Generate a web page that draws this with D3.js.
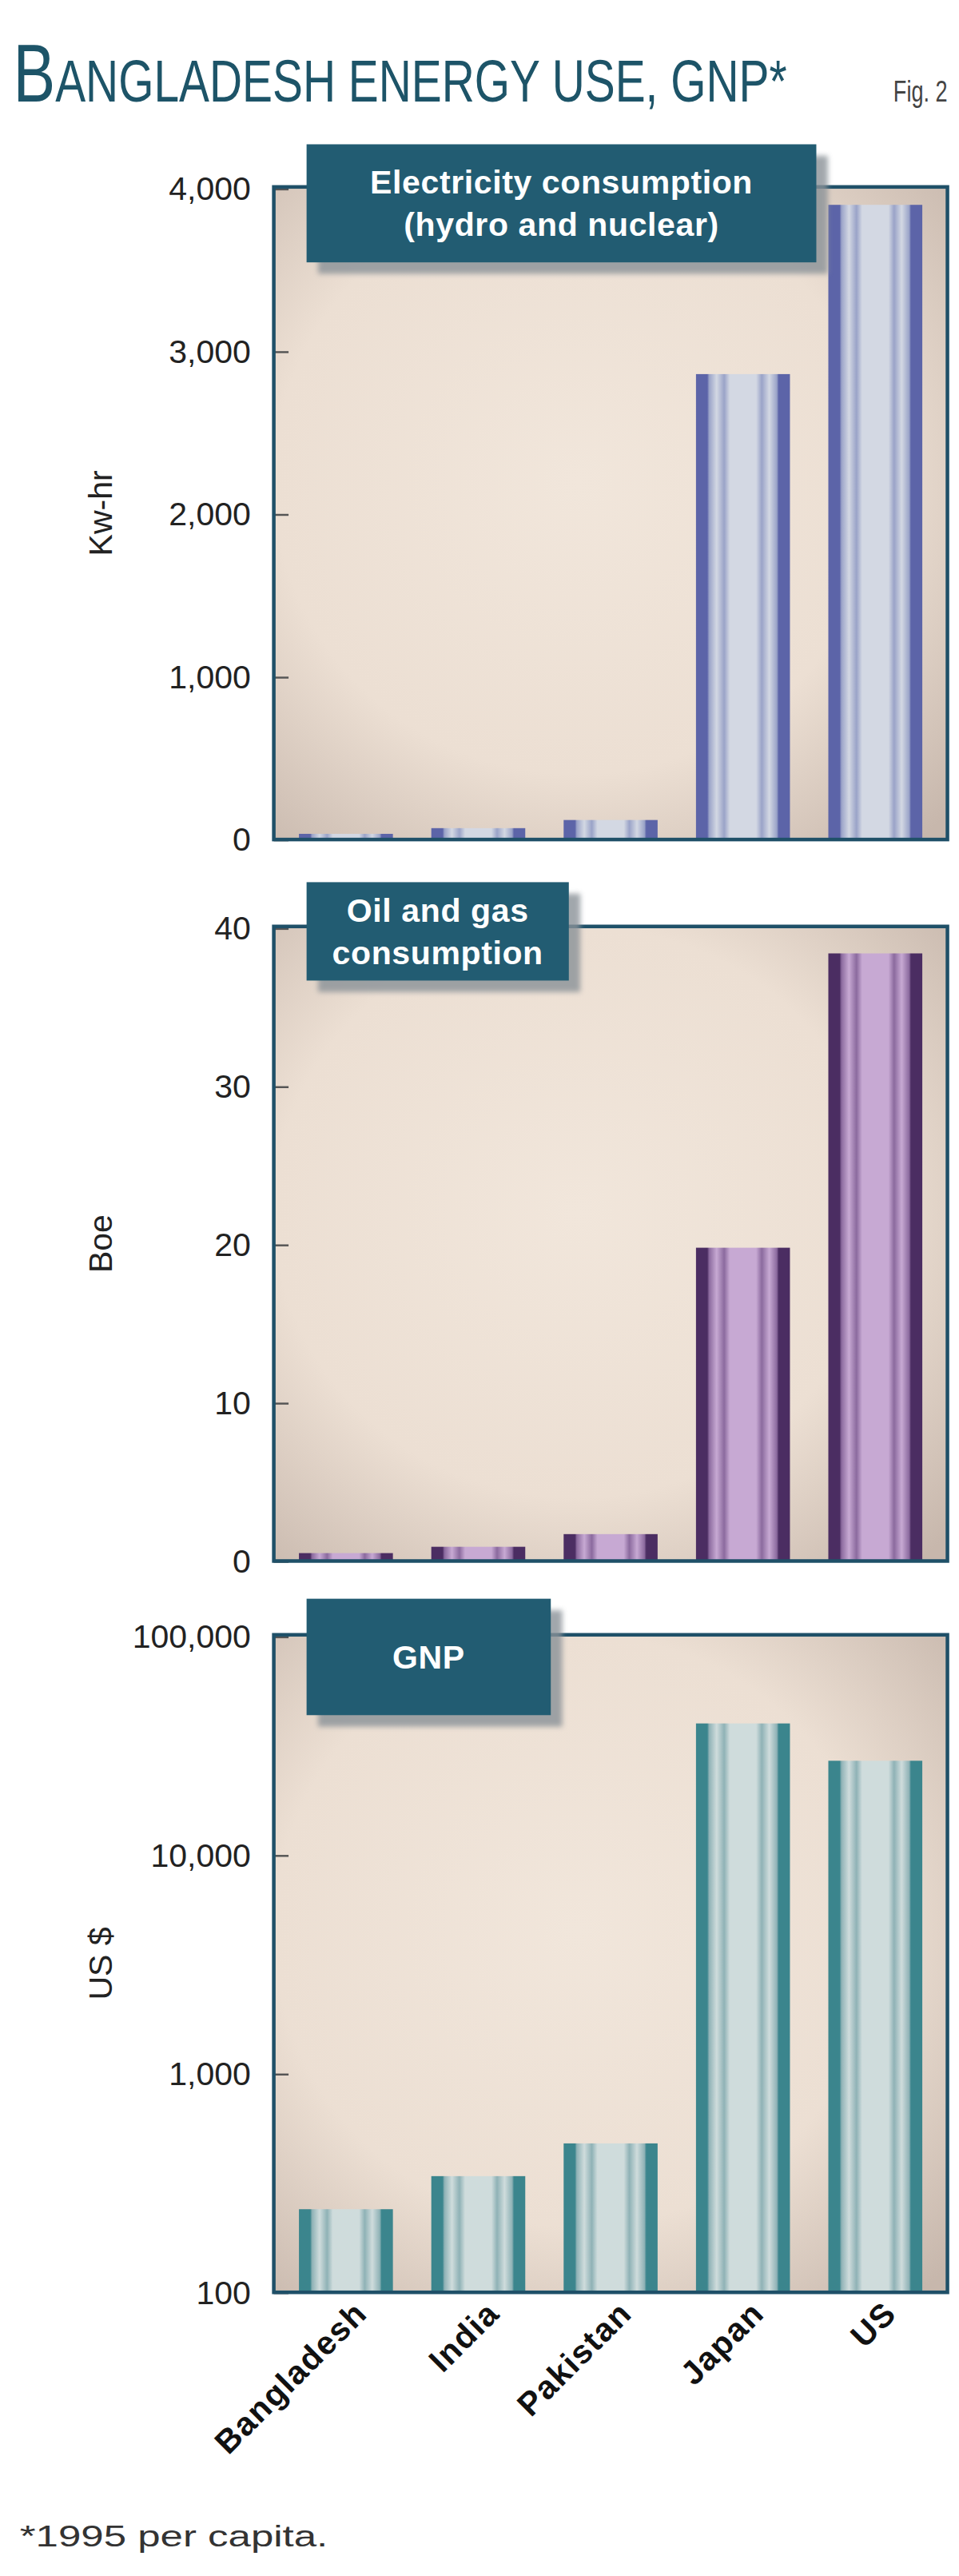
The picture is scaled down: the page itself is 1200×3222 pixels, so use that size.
<!DOCTYPE html>
<html>
<head>
<meta charset="utf-8">
<script src="https://cdn.jsdelivr.net/npm/d3@7"></script>
<style>
  body { margin: 0; background: #fff; }
  text { font-family: "Liberation Sans", Arial, sans-serif; }
</style>
</head>
<body>
<svg id="chart" width="1200" height="3222" viewBox="0 0 585 1571"></svg>
<script>
var countries = ["Bangladesh", "India", "Pakistan", "Japan", "US"];
var electricity = [35, 70, 120, 2860, 3900];
var oilGas = [0.5, 0.9, 1.7, 19.8, 38.4];
var gnp = [240, 340, 480, 40000, 27000];
var elecTicks = [0, 1000, 2000, 3000, 4000];
var oilTicks = [0, 10, 20, 30, 40];
var gnpTicks = [100, 1000, 10000, 100000];

var svg = d3.select("#chart");
var defs = svg.append("defs");
var left = 167, right = 578;

// background of each plot
var bg = defs.append("radialGradient").attr("id", "bg").attr("cx", "45%").attr("cy", "45%").attr("r", "75%");
bg.append("stop").attr("offset", "0%").attr("stop-color", "#f1e6db");
bg.append("stop").attr("offset", "60%").attr("stop-color", "#ecdfd3");
bg.append("stop").attr("offset", "100%").attr("stop-color", "#c7b7ac");

// striped bar fills
function stripes(id, dark, mid, light) {
  var g = defs.append("linearGradient").attr("id", id);
  var s = [[0, dark], [0.12, dark], [0.14, mid], [0.22, light], [0.3, mid], [0.36, light], [0.64, light], [0.7, mid], [0.78, light], [0.86, mid], [0.88, dark], [1, dark]];
  s.forEach(function (d) { g.append("stop").attr("offset", d[0]).attr("stop-color", d[1]); });
}
stripes("blue", "#5c64a8", "#9aa3c8", "#d3d8e3");
stripes("purple", "#4b2d62", "#8b6a9e", "#c7a9d3");
stripes("teal", "#3b858d", "#8fb2b6", "#cfdcdc");

var sh = defs.append("filter").attr("id", "shadow");
sh.append("feGaussianBlur").attr("stdDeviation", 1.5);

// title
var title = svg.append("text").attr("x", 8).attr("y", 62).attr("fill", "#1d5468")
  .attr("textLength", 472).attr("lengthAdjust", "spacingAndGlyphs");
title.append("tspan").attr("font-size", 50).text("B");
title.append("tspan").attr("font-size", 36).text("ANGLADESH ENERGY USE, GNP*");
svg.append("text").attr("x", 578).attr("y", 62).attr("text-anchor", "end").attr("font-size", 18)
  .attr("textLength", 33).attr("lengthAdjust", "spacingAndGlyphs")
  .attr("fill", "#444").text("Fig. 2");

var x = d3.scaleBand().domain(countries).range([left, right]).paddingInner(0.29).paddingOuter(0.19);

function panel(cfg) {
  var y = cfg.scale;
  var g = svg.append("g");
  g.append("rect").attr("x", left).attr("y", cfg.top).attr("width", right - left).attr("height", cfg.bottom - cfg.top)
    .attr("fill", "url(#bg)");
  g.selectAll(".bar").data(cfg.values).enter().append("rect")
    .attr("x", function (d, i) { return x(countries[i]); })
    .attr("width", x.bandwidth())
    .attr("y", function (d) { return y(d); })
    .attr("height", function (d) { return cfg.bottom - y(d); })
    .attr("fill", "url(#" + cfg.fill + ")");
  var axis = d3.axisRight(y).tickValues(cfg.ticks).tickSize(9).tickFormat("");
  var ag = g.append("g").attr("transform", "translate(" + left + ",0)").call(axis);
  ag.select(".domain").remove();
  ag.selectAll("line").attr("stroke", "#555").attr("stroke-width", 1.2);
  g.selectAll(".tl").data(cfg.ticks).enter().append("text")
    .attr("x", 153).attr("y", function (d) { return y(d) + 7; })
    .attr("text-anchor", "end").attr("font-size", 20).attr("fill", "#222")
    .text(function (d) { return d3.format(",")(d); });
  g.append("rect").attr("x", left).attr("y", cfg.top).attr("width", right - left).attr("height", cfg.bottom - cfg.top)
    .attr("fill", "none").attr("stroke", "#1f5068").attr("stroke-width", 2.2);
  g.append("text").attr("transform", "translate(68," + ((cfg.top + cfg.bottom) / 2) + ") rotate(-90)")
    .attr("text-anchor", "middle").attr("font-size", 20).attr("fill", "#222").text(cfg.label);
  // label box
  var b = cfg.box;
  g.append("rect").attr("x", b[0] + 7).attr("y", b[1] + 7).attr("width", b[2]).attr("height", b[3])
    .attr("fill", "#8a9298").attr("opacity", 0.8).attr("filter", "url(#shadow)");
  g.append("rect").attr("x", b[0]).attr("y", b[1]).attr("width", b[2]).attr("height", b[3]).attr("fill", "#225c72");
  var n = cfg.lines.length;
  cfg.lines.forEach(function (t, i) {
    g.append("text").attr("x", b[0] + b[2] / 2).attr("y", b[1] + b[3] / 2 + (i - (n - 1) / 2) * 26 + 7)
      .attr("text-anchor", "middle").attr("font-size", 20).attr("font-weight", "bold").attr("fill", "#fff")
      .attr("letter-spacing", 0.3).text(t);
  });
}

panel({ top: 114, bottom: 512, values: electricity, ticks: elecTicks, fill: "blue", label: "Kw-hr",
  scale: d3.scaleLinear().domain([0, 4000]).range([512, 115]),
  box: [187, 88, 311, 72], lines: ["Electricity consumption", "(hydro and nuclear)"] });
panel({ top: 565, bottom: 952, values: oilGas, ticks: oilTicks, fill: "purple", label: "Boe",
  scale: d3.scaleLinear().domain([0, 40]).range([952, 566]),
  box: [187, 538, 160, 60], lines: ["Oil and gas", "consumption"] });
panel({ top: 997, bottom: 1398, values: gnp, ticks: gnpTicks, fill: "teal", label: "US $",
  scale: d3.scaleLog().domain([100, 100000]).range([1398, 998]),
  box: [187, 975, 149, 71], lines: ["GNP"] });

// category labels
svg.selectAll(".cat").data(countries).enter().append("text")
  .attr("transform", function (d) { return "translate(" + (x(d) + x.bandwidth() / 2 + 14) + ",1412) rotate(-45)"; })
  .attr("text-anchor", "end").attr("font-size", 20).attr("font-weight", "bold").attr("fill", "#111")
  .attr("letter-spacing", 0.8).text(function (d) { return d; });

svg.append("text").attr("x", 12).attr("y", 1553).attr("font-size", 18).attr("fill", "#333")
  .attr("textLength", 188).attr("lengthAdjust", "spacingAndGlyphs").text("*1995 per capita.");
</script>
</body>
</html>
